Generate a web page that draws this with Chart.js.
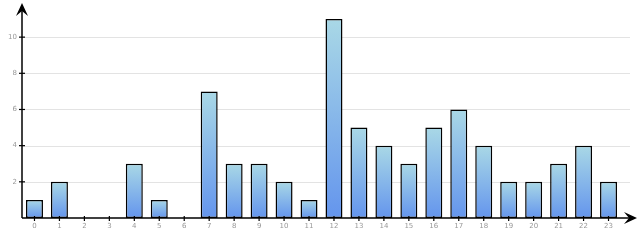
<!DOCTYPE html>
<html>
<head>
<meta charset="utf-8">
<script src="https://cdn.jsdelivr.net/npm/chart.js@4/dist/chart.umd.min.js"></script>
<style>
html,body{margin:0;padding:0;background:#fff;}
#wrap{width:640px;height:240px;position:relative;}
</style>
</head>
<body>
<div id="wrap"><canvas id="c" width="640" height="240"></canvas></div>
<script>
const categories = ["0","1","2","3","4","5","6","7","8","9","10","11","12","13","14","15","16","17","18","19","20","21","22","23"];
const values = [1,2,0,0,3,1,0,7,3,3,2,1,11,5,4,3,5,6,4,2,2,3,4,2];
const yTicks = [2,4,6,8,10];

const axesPlugin = {
  id: 'axesPlugin',
  beforeDatasetsDraw(chart) {
    const ctx = chart.ctx, y = chart.scales.y, a = chart.chartArea;
    ctx.save();
    ctx.strokeStyle = '#e3e3e3';
    ctx.lineWidth = 1;
    yTicks.forEach(v => {
      const py = Math.round(y.getPixelForValue(v)) + 0.5;
      ctx.beginPath(); ctx.moveTo(a.left, py); ctx.lineTo(630, py); ctx.stroke();
    });
    ctx.restore();
  },
  afterDatasetsDraw(chart) {
    const ctx = chart.ctx, x = chart.scales.x, y = chart.scales.y, a = chart.chartArea;
    const ox = a.left, oy = y.getPixelForValue(0);
    ctx.save();
    ctx.strokeStyle = '#000'; ctx.fillStyle = '#000'; ctx.lineWidth = 1.5;
    ctx.beginPath(); ctx.moveTo(ox, oy); ctx.lineTo(ox, 8); ctx.stroke();
    ctx.beginPath(); ctx.moveTo(ox, oy); ctx.lineTo(632, oy); ctx.stroke();
    ctx.beginPath();
    ctx.moveTo(ox, 3); ctx.lineTo(ox + 6, 16); ctx.lineTo(ox, 11); ctx.lineTo(ox - 6, 16); ctx.closePath(); ctx.fill();
    ctx.beginPath();
    ctx.moveTo(637, oy); ctx.lineTo(624, oy - 6); ctx.lineTo(629, oy); ctx.lineTo(624, oy + 6); ctx.closePath(); ctx.fill();
    ctx.lineWidth = 1.2;
    yTicks.forEach(v => {
      const py = y.getPixelForValue(v);
      ctx.beginPath(); ctx.moveTo(ox - 3, py); ctx.lineTo(ox + 3, py); ctx.stroke();
    });
    categories.forEach((c, i) => {
      const px = x.getPixelForValue(i);
      ctx.beginPath(); ctx.moveTo(px, oy - 2); ctx.lineTo(px, oy + 3); ctx.stroke();
    });
    ctx.restore();
  }
};

new Chart(document.getElementById('c'), {
  type: 'bar',
  data: {
    labels: categories,
    datasets: [{
      data: values,
      backgroundColor: (ctx) => {
        const chart = ctx.chart;
        const ys = chart.scales.y;
        if (!ys || !chart.chartArea || ctx.raw === undefined) return '#6495ed';
        const top = ys.getPixelForValue(ctx.raw || 0.0001);
        const bot = ys.getPixelForValue(0);
        if (!isFinite(top) || !isFinite(bot) || top === bot) return '#6495ed';
        const g = chart.ctx.createLinearGradient(0, top, 0, bot);
        g.addColorStop(0, '#a9d8e6');
        g.addColorStop(1, '#6495ed');
        return g;
      },
      borderColor: '#000',
      borderWidth: 1.5,
      borderSkipped: false,
      categoryPercentage: 1,
      barPercentage: 0.68
    }]
  },
  options: {
    responsive: false,
    animation: false,
    events: [],
    layout: { padding: { top: 10, right: 19, left: 0, bottom: 0 } },
    plugins: { legend: { display: false }, tooltip: { enabled: false } },
    scales: {
      x: {
        offset: true,
        grid: { display: false, drawTicks: false },
        border: { display: false },
        ticks: { color: '#999', font: { size: 7, family: 'DejaVu Sans' }, padding: 4, maxRotation: 0, autoSkip: false },
        afterFit(s) { s.height = 22; }
      },
      y: {
        min: 0, max: 11.5,
        grid: { display: false, drawTicks: false },
        border: { display: false },
        ticks: { color: '#999', font: { size: 7, family: 'DejaVu Sans' }, padding: 5, stepSize: 2 },
        afterBuildTicks(s) { s.ticks = yTicks.map(v => ({ value: v })); },
        afterFit(s) { s.width = 22; }
      }
    }
  },
  plugins: [axesPlugin]
});
</script>
</body>
</html>
